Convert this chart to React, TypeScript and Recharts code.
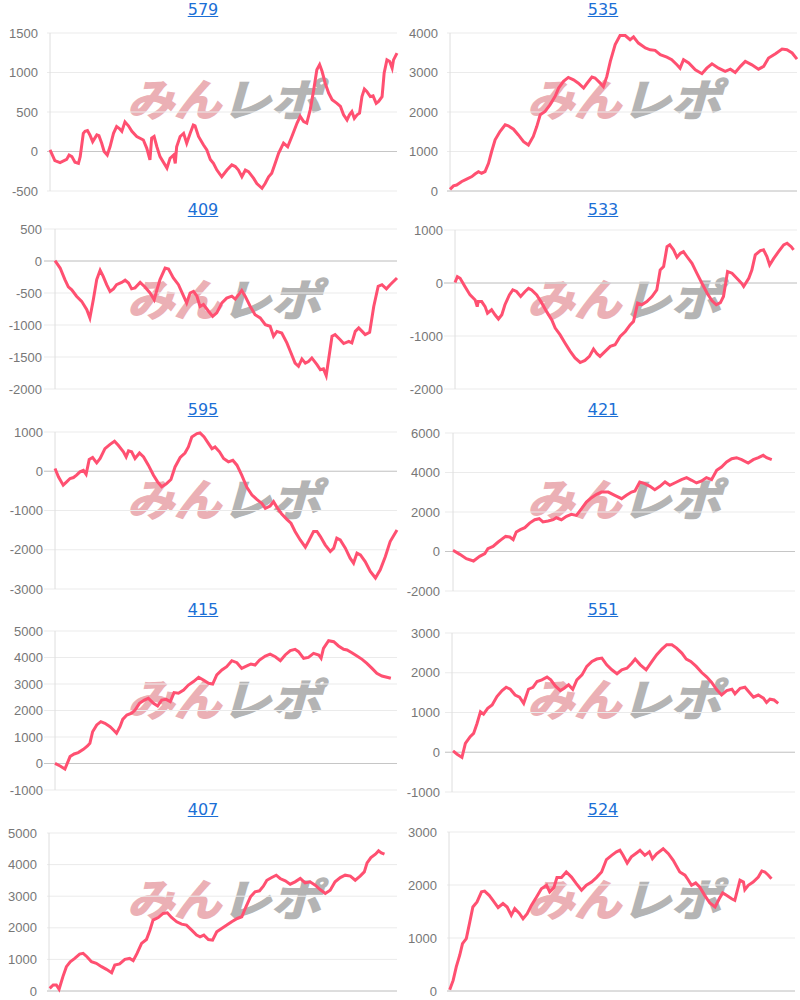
import { CartesianGrid, Line, LineChart, ReferenceLine, XAxis, YAxis } from "recharts"

// each run: [progress (0-100 of the full x range), balance]
type Pt = [number, number]

const run579: Pt[] = [[0,20],[1.4,-115],[2.9,-140],[4.8,-100],[5.5,-45],[6.3,-65],[7.2,-135],[8.2,-150],[8.7,-65],[9.6,230],[10.1,255],[10.8,265],[11.5,210],[12.3,125],[13.5,210],[14.1,200],[14.9,105],[15.6,0],[16.5,-45],[17.3,60],[18.3,230],[19.2,315],[20,290],[20.7,255],[21.6,375],[22.6,325],[23.6,255],[25,190],[26.9,145],[27.9,40],[28.8,-105],[29.3,170],[30,190],[30.8,60],[31.7,-65],[33.7,-210],[34.6,-85],[35.6,-45],[36.1,-150],[36.5,60],[37.5,190],[38.5,230],[39.4,105],[40.4,230],[41.3,335],[41.8,325],[42.8,190],[44.2,85],[45.2,20],[46.2,-100],[47.1,-150],[48.1,-235],[49.5,-320],[51,-235],[52.4,-170],[53.4,-190],[54.3,-235],[55.3,-320],[56.3,-235],[57.2,-255],[58.7,-340],[59.6,-405],[61.1,-465],[62,-405],[63,-320],[63.9,-275],[64.9,-150],[65.9,-20],[67.3,105],[68.5,60],[69.7,190],[71.2,360],[72.1,445],[73.1,380],[74,360],[75,530],[76,780],[76.9,1035],[77.7,1100],[78.4,1015],[79.3,865],[80.3,740],[81.3,655],[82.7,610],[83.7,570],[84.6,465],[85.6,400],[86.3,465],[87,505],[87.7,420],[88.5,465],[89.2,485],[89.9,695],[90.6,790],[91.3,760],[92.3,695],[93.1,705],[94,610],[94.7,635],[95.7,695],[96.3,995],[97.1,1160],[97.9,1140],[98.6,1055],[99,1160],[100,1245]]

const run535: Pt[] = [[0,40],[1,130],[1.9,150],[3.4,240],[4.8,300],[6.3,365],[7.2,430],[8.2,490],[9.1,450],[10.1,490],[11.1,700],[12,1000],[13,1295],[14.4,1505],[15.9,1675],[16.8,1650],[18.3,1565],[19.7,1420],[21.2,1250],[22.6,1165],[24,1380],[25,1630],[26,1930],[27.4,2015],[28.8,2180],[30.3,2395],[31.3,2605],[32.7,2775],[34.1,2875],[35.6,2815],[37,2730],[38.5,2605],[39.4,2715],[40.9,2885],[41.8,2860],[43.3,2730],[44.2,2645],[45.2,2900],[46.2,3280],[47.6,3705],[49,3935],[50.5,3935],[51.9,3830],[52.9,3900],[54.3,3745],[56.3,3620],[57.7,3575],[59.1,3560],[60.6,3450],[62.5,3390],[63.9,3325],[65.4,3195],[66.3,3110],[67.3,3325],[68.8,3240],[70.7,3070],[72.6,2970],[74,3110],[75.5,3220],[77.4,3110],[79.3,3030],[80.8,3085],[82.2,3000],[83.7,3155],[85.1,3280],[87,3195],[88.9,3085],[90.4,3155],[91.8,3365],[93.8,3475],[95.7,3595],[97.1,3575],[98.6,3495],[100,3340]]

const run409: Pt[] = [[0,5],[1.5,-110],[2.9,-290],[3.9,-405],[4.9,-450],[6.3,-550],[7.8,-630],[9.3,-760],[10.2,-890],[11.2,-605],[12.2,-290],[13.2,-145],[14.1,-240],[15.1,-370],[16.1,-475],[17.1,-435],[18,-370],[19.5,-335],[20.5,-300],[21.5,-345],[22.4,-435],[23.4,-420],[24.9,-335],[26.3,-405],[27.8,-500],[29,-605],[29.8,-450],[30.7,-290],[32.2,-110],[33.2,-125],[34.6,-265],[36.1,-370],[37.6,-550],[38.5,-655],[39.5,-500],[40.5,-475],[41.5,-550],[42.4,-710],[43.4,-680],[44.9,-785],[46.1,-865],[47.3,-810],[48.8,-655],[50.2,-580],[51.7,-550],[52.7,-595],[53.7,-525],[54.6,-460],[55.6,-550],[57.1,-710],[58.5,-840],[60,-890],[61.5,-995],[62.9,-1020],[63.9,-1175],[64.9,-1100],[66.3,-1125],[67.8,-1280],[68.8,-1410],[70.2,-1595],[71.2,-1645],[72.2,-1530],[73.2,-1595],[74.1,-1570],[75.1,-1515],[76.6,-1620],[77.6,-1700],[78.5,-1685],[79.3,-1790],[80,-1540],[81,-1175],[81.9,-1150],[83.4,-1230],[84.4,-1290],[85.9,-1255],[86.8,-1280],[87.8,-1100],[88.8,-1045],[89.8,-1100],[90.7,-1150],[92,-1115],[93.2,-710],[94.5,-395],[95.6,-370],[96.9,-435],[98,-370],[100,-265]]

const run533: Pt[] = [[0,10],[0.7,120],[1.5,90],[2.9,-65],[4.4,-225],[5.9,-320],[6.5,-445],[6.8,-350],[7.8,-350],[8.8,-445],[9.5,-570],[10.7,-505],[11.7,-600],[12.7,-680],[13.7,-600],[14.6,-410],[15.9,-225],[16.9,-130],[18,-160],[19.2,-255],[20.5,-160],[21.5,-100],[22.4,-130],[23.9,-225],[25.4,-380],[26.8,-540],[28.3,-695],[29.3,-850],[30.7,-975],[32.2,-1135],[33.7,-1290],[35.1,-1415],[36.6,-1500],[38,-1460],[39.3,-1385],[40.5,-1245],[41.5,-1335],[42.4,-1385],[43.9,-1290],[45.4,-1195],[46.8,-1165],[48.3,-1010],[49.8,-915],[51.2,-790],[52.2,-725],[53.4,-380],[54.6,-410],[56.1,-350],[57.6,-255],[59,-130],[60,245],[61,310],[62,685],[62.8,720],[63.9,625],[64.9,485],[65.9,560],[66.8,590],[67.8,500],[69.3,370],[70.7,185],[72.2,-5],[73.7,-190],[75.1,-330],[76.4,-410],[77.6,-370],[78.5,-255],[79.7,215],[81,185],[82.4,90],[83.9,-15],[84.4,-65],[85.9,90],[86.8,245],[87.8,530],[89.3,610],[90.2,625],[91.2,500],[92,340],[93.2,465],[94.6,590],[96.1,720],[97.1,750],[98.3,685],[99,625]]

const run595: Pt[] = [[0,70],[1,-140],[2.4,-355],[3.4,-270],[4.4,-185],[5.4,-160],[6.3,-100],[7.3,-15],[8.3,25],[9.1,-75],[10,300],[11,350],[12.2,215],[13.2,325],[14.6,575],[16.1,685],[17.4,765],[18.5,660],[20,495],[20.8,365],[21.5,520],[22.4,495],[23.4,325],[24.7,465],[25.9,365],[27.3,155],[28.8,-100],[30,-270],[31.2,-395],[32.7,-310],[33.9,-210],[35.1,110],[36.6,350],[38,465],[39,620],[40,875],[41.5,960],[42.4,975],[43.6,875],[44.9,705],[45.9,575],[46.8,620],[48.1,495],[49.3,325],[50.7,240],[52,280],[53.2,155],[54.6,-100],[56.1,-410],[57.6,-605],[59,-715],[60.5,-820],[61.5,-945],[62.9,-885],[63.9,-775],[64.9,-920],[66.3,-1090],[67.8,-1225],[69,-1325],[70.2,-1535],[71.7,-1750],[73.2,-1935],[74.1,-1790],[75.6,-1535],[76.6,-1535],[77.6,-1665],[79,-1875],[80.5,-2045],[81.5,-1960],[82.4,-1705],[83.4,-1750],[84.9,-1960],[86.3,-2215],[87.3,-2340],[88.3,-2085],[89.3,-2130],[90.7,-2300],[92.2,-2550],[93.7,-2720],[95.1,-2510],[96.6,-2170],[98,-1790],[100,-1495]]

const run421: Pt[] = [[0,60],[2,-145],[3.9,-365],[6,-480],[7.8,-245],[9.3,-110],[10.2,145],[11.7,260],[13.2,480],[14.1,600],[15.4,765],[16.6,735],[17.6,600],[18.5,985],[19.7,1105],[21,1205],[22.4,1440],[23.9,1610],[25.2,1660],[26.3,1495],[27.8,1545],[29.3,1610],[30.2,1710],[31.7,1610],[33.2,1780],[34.6,1880],[36.1,1830],[37.6,2170],[39,2505],[40.5,2725],[42,2895],[43.4,3010],[45.4,3010],[47.3,2845],[49.3,2675],[50.7,2845],[52.2,3010],[53.2,3065],[54.6,3520],[56.1,3435],[57.6,3300],[59,3130],[60.5,3300],[62,3520],[63.4,3350],[65.4,3520],[66.8,3635],[68.3,3740],[69.8,3605],[71.2,3470],[72.7,3570],[74.1,3740],[75.6,3635],[77.1,4110],[78.5,4280],[80,4530],[81.5,4700],[82.9,4750],[84.4,4650],[86.3,4480],[87.8,4650],[89.3,4750],[90.7,4870],[91.7,4750],[93.2,4650]]

const run415: Pt[] = [[0,5],[1.5,-95],[2.9,-210],[4.4,260],[5.6,360],[6.8,410],[8.3,535],[9.5,660],[10.2,760],[11,1200],[12.2,1455],[13.4,1580],[14.6,1515],[16.1,1390],[17.1,1265],[18,1140],[19,1390],[19.8,1665],[21,1830],[22.4,1895],[23.4,2020],[24.7,2270],[26.1,2395],[27.3,2460],[28.8,2270],[30,2170],[31.2,2395],[32.5,2420],[33.7,2335],[34.8,2675],[36.1,2650],[37.6,2775],[39,2960],[40.5,3090],[42,3250],[43.4,3150],[44.9,3025],[46.1,3000],[47.3,3340],[48.8,3530],[50.2,3655],[51.7,3880],[53.2,3805],[54.6,3590],[56.1,3680],[57.3,3755],[58.5,3715],[59.8,3905],[61.5,4055],[62.9,4130],[64.4,4030],[65.9,3880],[67.3,4095],[68.8,4260],[70.2,4310],[71.2,4220],[72.7,3970],[74.1,4005],[75.6,4155],[77.1,4095],[77.8,3970],[78.5,4345],[80,4635],[81.5,4595],[82.9,4435],[84.4,4310],[85.4,4285],[86.8,4180],[88.3,4055],[89.8,3930],[91.2,3780],[92.7,3590],[94.1,3400],[95.6,3300],[98.2,3215]]

const run551: Pt[] = [[0.3,35],[1.5,-50],[2.9,-130],[3.9,220],[5.3,390],[6.3,475],[7.3,725],[8.3,1020],[9.2,960],[10.4,1105],[11.7,1190],[13.1,1400],[14.6,1550],[15.8,1635],[17,1585],[18.4,1440],[19.7,1385],[20.9,1230],[22.3,1585],[23.6,1635],[24.8,1780],[26.2,1820],[27.7,1890],[28.8,1820],[30.1,1670],[31.6,1550],[32.7,1610],[34,1695],[35.2,1585],[36.4,1820],[37.9,1945],[39.3,2160],[40.8,2285],[42.2,2345],[43.7,2370],[45.1,2200],[46.6,2075],[48.1,1975],[49.5,2075],[51,2115],[52.4,2240],[53.4,2345],[54.9,2200],[56.6,2075],[58.3,2285],[59.7,2455],[61.2,2595],[62.6,2705],[64.1,2705],[65.5,2620],[67,2495],[68.3,2345],[69.6,2285],[71.2,2160],[72.8,2005],[74.3,1890],[75.7,1755],[77.2,1570],[78.6,1440],[80.1,1550],[81.6,1585],[82.5,1470],[84,1610],[85.4,1635],[86.9,1485],[87.9,1385],[89.3,1440],[90.8,1360],[91.7,1250],[92.7,1335],[93.9,1315],[95.1,1230]]

const run407: Pt[] = [[0.2,85],[1.2,190],[2.1,190],[2.9,55],[4,455],[5,770],[6.1,925],[7.4,1030],[8.8,1170],[9.8,1190],[10.9,1085],[12.2,925],[13.6,875],[15.1,770],[16.5,685],[18,580],[18.9,820],[20.3,855],[21.8,1000],[23.2,1030],[24.2,960],[25.3,1190],[26.6,1505],[28,1630],[29,1925],[29.9,2245],[31.4,2325],[32.8,2455],[34,2475],[35.2,2325],[36.7,2190],[38.1,2115],[39.5,2085],[41,1925],[42.4,1770],[43.4,1715],[44.5,1770],[45.8,1630],[47,1610],[48.2,1875],[49.6,1980],[51.1,2085],[52.5,2190],[54.1,2295],[55.4,2350],[56.6,2665],[57.9,2980],[59.2,3140],[60.5,3170],[61.6,3315],[62.6,3505],[64,3590],[65.3,3665],[66.4,3560],[67.9,3485],[69.3,3380],[70.7,3455],[72.2,3560],[73.6,3420],[75,3455],[76.5,3350],[77.9,3210],[79.4,3085],[80.8,3190],[82.2,3455],[83.7,3590],[85.1,3665],[86.6,3635],[88,3505],[89.4,3635],[90.6,3770],[91.4,4055],[92.5,4220],[93.8,4330],[94.7,4435],[95.5,4370],[96.4,4330]]

const run524: Pt[] = [[0.2,25],[1.2,200],[2.1,455],[3.1,675],[3.9,895],[5,990],[6,1300],[6.9,1585],[8.1,1680],[9.4,1870],[10.3,1885],[11.6,1805],[12.7,1710],[14.2,1575],[15.6,1650],[16.8,1585],[18,1430],[19,1555],[20.3,1470],[21.4,1365],[22.6,1460],[23.8,1615],[25.3,1775],[26.7,1930],[28.2,1995],[29.1,1870],[30.3,1950],[31.2,2140],[32.5,2140],[33.9,2245],[35.4,2150],[36.8,2025],[38.3,1900],[39.7,1995],[41.2,2055],[42.6,2140],[44.1,2245],[45.5,2480],[47,2560],[48.4,2625],[49.4,2655],[50.3,2560],[51.5,2415],[52.7,2530],[54.2,2605],[55.2,2655],[56.6,2560],[57.9,2625],[58.8,2495],[60,2590],[61.9,2685],[63.4,2590],[64.8,2465],[66.7,2245],[68.2,2185],[69.1,2100],[70.1,1995],[71.3,2040],[72.5,1960],[73.9,1805],[75.4,1660],[76.9,1585],[78.1,1740],[79.1,1850],[80.2,1805],[81.7,1740],[82.6,1710],[84.1,2090],[85.1,2055],[85.5,1910],[86.5,1995],[87.9,2055],[89.4,2150],[90.4,2265],[91.3,2245],[92.3,2185],[93.2,2120]]

const ticks579 = [-500, 0, 500, 1000, 1500]
const ticks535 = [0, 1000, 2000, 3000, 4000]
const ticks409 = [-2000, -1500, -1000, -500, 0, 500]
const ticks533 = [-2000, -1000, 0, 1000]
const ticks595 = [-3000, -2000, -1000, 0, 1000]
const ticks421 = [-2000, 0, 2000, 4000, 6000]
const ticks415 = [-1000, 0, 1000, 2000, 3000, 4000, 5000]
const ticks551 = [-1000, 0, 1000, 2000, 3000]
const ticks407 = [0, 1000, 2000, 3000, 4000, 5000]
const ticks524 = [0, 1000, 2000, 3000]

// grid: where gridlines start, axis: x=0 baseline, label: right edge of tick text
type Box = { grid: number; axis: number; label: number; top: number; bottom: number; right: number }

const panels: { title: string; run: Pt[]; ticks: number[]; box: Box }[] = [
  { title: "579", run: run579, ticks: ticks579, box: { grid: 47, axis: 50, label: 38, top: 33, bottom: 191, right: 397 } },
  { title: "535", run: run535, ticks: ticks535, box: { grid: 47, axis: 50, label: 38, top: 33, bottom: 191, right: 397 } },
  { title: "409", run: run409, ticks: ticks409, box: { grid: 44, axis: 55, label: 42, top: 29, bottom: 189, right: 397 } },
  { title: "533", run: run533, ticks: ticks533, box: { grid: 44, axis: 55, label: 43, top: 30, bottom: 189, right: 397 } },
  { title: "595", run: run595, ticks: ticks595, box: { grid: 44, axis: 55, label: 43, top: 32, bottom: 189, right: 397 } },
  { title: "421", run: run421, ticks: ticks421, box: { grid: 45, axis: 53, label: 40, top: 33, bottom: 191, right: 395 } },
  { title: "415", run: run415, ticks: ticks415, box: { grid: 44, axis: 55, label: 43, top: 31, bottom: 190, right: 397 } },
  { title: "551", run: run551, ticks: ticks551, box: { grid: 45, axis: 52, label: 40, top: 33, bottom: 192, right: 395 } },
  { title: "407", run: run407, ticks: ticks407, box: { grid: 47, axis: 49, label: 37, top: 33, bottom: 191, right: 397 } },
  { title: "524", run: run524, ticks: ticks524, box: { grid: 47, axis: 49, label: 37, top: 32, bottom: 191, right: 395 } },
]

function Watermark() {
  const font = "'Noto Sans CJK JP', sans-serif"
  return (
    <svg width={220} height={56} overflow="visible" style={{ position: "absolute", left: 115, top: 72, overflow: "visible" }}>
      <text x={12} y={44} fontSize={44} fontWeight={700} fontStyle="italic" fontFamily={font}
        fill="#ebb0b5" stroke="#ebb0b5" strokeWidth={1.5}
        textLength={94} lengthAdjust="spacingAndGlyphs">みん</text>
      <text x={106} y={44} fontSize={44} fontWeight={700} fontStyle="italic" fontFamily={font}
        fill="#b4b4b4" stroke="#b4b4b4" strokeWidth={1.5}
        textLength={100} lengthAdjust="spacingAndGlyphs">レポ</text>
    </svg>
  )
}

function MiniChart({ p }: { p: (typeof panels)[number] }) {
  const { grid, axis, label, top, bottom, right } = p.box
  const xMin = -((axis - grid) / (right - axis)) * 100
  const data = p.run.map(([x, y]) => ({ x, y }))
  const lo = p.ticks[0]
  const hi = p.ticks[p.ticks.length - 1]
  return (
    <div style={{ position: "relative", width: 400, height: 200 }}>
      <div
        style={{
          position: "absolute", left: 3, top: 0, width: 400, textAlign: "center",
          fontFamily: "'DejaVu Sans', sans-serif", fontSize: 16, lineHeight: "20px",
          color: "#1b6fd6", textDecoration: "underline",
        }}
      >
        {p.title}
      </div>
      <Watermark />
      <div style={{ position: "absolute", left: 0, top: 0 }}>
        <LineChart
          width={400}
          height={200}
          data={data}
          margin={{ top, right: 400 - right, bottom: 200 - bottom, left: 0 }}
        >
          <CartesianGrid vertical={false} stroke="#ebebeb" />
          <XAxis type="number" dataKey="x" domain={[xMin, 100]} hide />
          <YAxis
            type="number"
            domain={[lo, hi]}
            ticks={p.ticks}
            interval={0}
            width={grid}
            axisLine={false}
            tickLine={false}
            tickSize={0}
            tickMargin={grid - label}
            tick={{ fill: "#777", fontSize: 13, fontFamily: "'Liberation Sans', Arial, sans-serif" }}
          />
          <ReferenceLine y={0} stroke="#c6c6c6" />
          <ReferenceLine x={0} stroke="#dedede" />
          <Line
            type="linear"
            dataKey="y"
            stroke="#ff5071"
            strokeWidth={3}
            dot={false}
            isAnimationActive={false}
          />
        </LineChart>
      </div>
    </div>
  )
}

export default function App() {
  return (
    <div
      style={{
        position: "absolute", left: 0, top: 0, width: 800, height: 1000,
        background: "#fff", display: "grid", gridTemplateColumns: "400px 400px",
        gridAutoRows: "200px",
      }}
    >
      {panels.map((p) => (
        <MiniChart key={p.title} p={p} />
      ))}
    </div>
  )
}
